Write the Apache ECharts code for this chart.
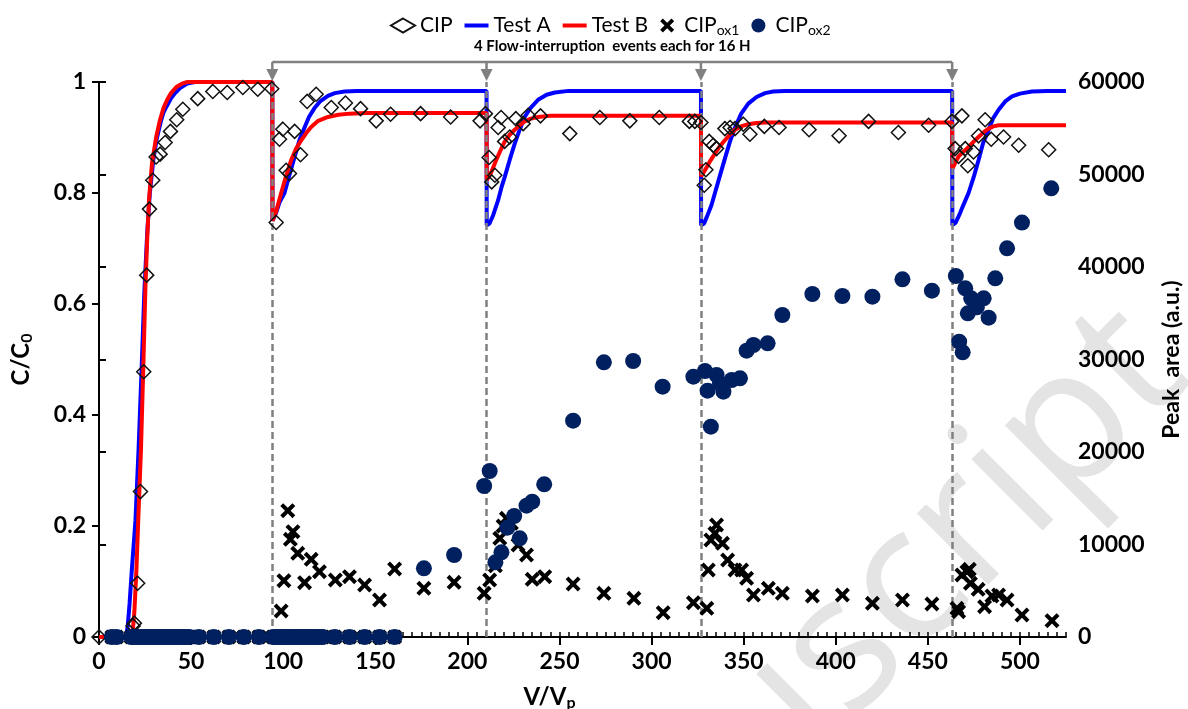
<!DOCTYPE html>
<html><head><meta charset="utf-8">
<script src="https://cdn.jsdelivr.net/npm/echarts@6/dist/echarts.min.js"></script>
<style>html,body{margin:0;padding:0;background:#fff}#c{width:1188px;height:709px}</style>
</head><body><div id="c"></div>
<script>
const FONT = 'Lato';
const xTicks = [0, 50, 100, 150, 200, 250, 300, 350, 400, 450, 500];
const yLeftTicks = [0, 0.2, 0.4, 0.6, 0.8, 1];
const yRightTicks = [0, 10000, 20000, 30000, 40000, 50000, 60000];
const interruptions = [94.1, 210.4, 326.8, 463.2];
const annotationText = '4 Flow-interruption  events each for 16 H';

const cip = [[0,0],[18.5,0.02],[19.2,0.025],[21,0.097],[22.5,0.262],[24.3,0.478],[25.9,0.652],[27.4,0.771],[29.2,0.823],[31,0.865],[33.2,0.870],[35.9,0.891],[38.8,0.911],[42.2,0.932],[45.5,0.951],[53.6,0.970],[61.8,0.983],[69.6,0.981],[78.1,0.990],[86.2,0.987],[93.8,0.988],
[96.2,0.747],[98,0.897],[99.8,0.915],[101.6,0.841],[103.4,0.835],[106.2,0.911],[109.4,0.869],[113,0.965],[117.9,0.978],[126.1,0.954],[133.8,0.962],[142,0.952],[150.5,0.930],[158.3,0.942],[174.6,0.943],[190.9,0.937],[206.9,0.930],[209.8,0.943],[211.8,0.864],[213.2,0.820],[214.9,0.832],[216.7,0.918],[218.3,0.936],[220.2,0.893],[223,0.901],[226.3,0.934],[230.3,0.925],[233,0.940],[239.7,0.939],[255.6,0.907],[271.9,0.936],[288.2,0.930],[304.2,0.936],[320.5,0.929],[323.5,0.929],[326.8,0.927],[328.6,0.814],[329.5,0.842],[331.3,0.893],[333.5,0.886],[335.3,0.880],[339.8,0.916],[342.6,0.918],[345.3,0.916],[349.8,0.924],[353.4,0.906],[361.2,0.92],[369.2,0.918],[385.5,0.914],[401.8,0.903],[417.8,0.929],[434,0.909],[450.4,0.922],[463,0.929],[464.8,0.880],[466.7,0.866],[468.5,0.939],[470.3,0.880],[471.7,0.849],[474.8,0.874],[477.5,0.903],[481.1,0.932],[484.4,0.897],[491.1,0.901],[499.3,0.886],[515.6,0.878]];

const testA = [[0,0],[14.7,0],[15.6,0.02],[16.6,0.06],[17.8,0.12],[19.8,0.21],[21.5,0.34],[23.1,0.48],[24.6,0.62],[26.2,0.73],[27.6,0.8],[29.5,0.86],[31.5,0.9],[33.5,0.928],[35,0.945],[36.7,0.956],[39,0.97],[41.3,0.98],[44,0.989],[47.9,0.997],[52,1],[94.1,1],
[94.2,0.75],[96,0.763],[98,0.783],[100.7,0.80],[103,0.828],[106.2,0.865],[109,0.897],[111.6,0.918],[114,0.937],[117,0.953],[120,0.965],[124.3,0.975],[128,0.98],[133.3,0.983],[140,0.984],[210.4,0.984],
[210.5,0.742],[212,0.745],[214,0.76],[216.7,0.787],[218.5,0.81],[220.3,0.829],[223,0.86],[225.7,0.889],[228.5,0.915],[231.1,0.937],[234,0.952],[238.4,0.968],[243,0.977],[247.5,0.981],[255,0.984],[326.8,0.984],
[326.9,0.742],[328.5,0.745],[330,0.757],[332.5,0.778],[334.4,0.80],[337,0.83],[339.8,0.862],[342.5,0.892],[345.3,0.918],[348.5,0.942],[352.5,0.961],[357,0.973],[361.6,0.98],[366,0.983],[372.4,0.984],[463.2,0.984],
[463.3,0.742],[465,0.746],[467,0.76],[469.5,0.78],[472.1,0.80],[475,0.83],[477.5,0.859],[480,0.89],[483,0.914],[485.5,0.935],[488.4,0.95],[492,0.965],[495.7,0.974],[500,0.979],[506.5,0.983],[515,0.984],[525,0.984]];

const testB = [[0,0],[17.4,0],[18.3,0.01],[19.2,0.045],[20.3,0.12],[21.3,0.21],[22.8,0.34],[24,0.48],[25.2,0.63],[26.2,0.72],[27.2,0.79],[28.8,0.855],[31,0.9],[33,0.93],[35,0.953],[37,0.968],[39.1,0.98],[42,0.991],[45,0.997],[48,1],[94.1,1],
[94.2,0.75],[96,0.765],[98.9,0.80],[101.5,0.83],[104.3,0.859],[107,0.88],[109.8,0.895],[112.5,0.908],[115.2,0.919],[119,0.93],[124.3,0.937],[130,0.941],[136,0.943],[145,0.944],[210.4,0.944],
[210.5,0.823],[213,0.838],[216,0.862],[218,0.877],[220.3,0.893],[223,0.905],[225.7,0.914],[228.5,0.922],[231.1,0.929],[234.5,0.934],[238.4,0.937],[245,0.939],[326.8,0.939],
[326.9,0.83],[329,0.841],[331.5,0.856],[334.4,0.871],[337,0.884],[339.8,0.895],[342.5,0.905],[345.3,0.914],[348.5,0.92],[352.5,0.924],[357,0.926],[362,0.927],[463.2,0.927],
[463.3,0.844],[466.7,0.866],[469.5,0.875],[472.1,0.883],[475,0.893],[477.5,0.901],[480.5,0.91],[483,0.916],[485.5,0.92],[488.4,0.922],[495,0.922],[525,0.922]];

const oxZeroV = [7,9.5,17.5,19,20.5,22,23.5,25,26.5,28,29.5,31,32.5,34,35.5,37,38.5,40,41.5,43,44.5,46,47.5,49,54.2,62.3,70.5,78.6,86.8,94.5,96,97.5,99,100.5,102,103.5,105,106.5,108,109.5,111,112.5,114,115.5,117,118.5,120,121.5,128,136,144.2,152.3,160.5];

const cipOx1 = [[98.9,2811],[100.4,6087],[102.5,13654],[103.9,10562],[105.3,11384],[107.9,9049],[111.6,5870],[115.2,8400],[119.7,7059],[128.3,6162],[136,6519],[144.2,5622],[152.3,4000],[160.5,7351],[176.4,5265],[192.8,5914],[209.1,4724],[212.1,6162],[215.2,7700],[217.6,10670],[219.4,12000],[221.2,12832],[223.9,12292],[227.5,9946],[232.1,8865],[235.2,6238],[242,6519],[257.4,5730],[274.1,4724],[290.4,4184],[306.3,2627],[322.7,3708],[330,3103],[330.8,7243],[332.2,10486],[334.4,11211],[335.3,12108],[338.5,10130],[341.3,8324],[345.3,7243],[348.9,7243],[351.6,6346],[355.3,4541],[363.4,5265],[371,4724],[387.3,4432],[403.6,4541],[419.9,3643],[436.2,4000],[452.2,3567],[465.8,3103],[466.7,2735],[468.5,6703],[471.2,7059],[472.5,7319],[473.1,5805],[477.3,5157],[480.8,3276],[484.8,4432],[488.4,4541],[493,4000],[501.1,2378],[517.4,1762]];

const cipOx2 = [[176.4,7427],[192.8,8865],[209.1,16324],[212.1,17946],[215.2,8076],[218.5,9157],[221.7,11816],[225.4,13081],[228.4,10670],[232.1,14195],[235.2,14627],[241.7,16508],[257.4,23384],[274.1,29697],[290,29838],[306,27059],[322.7,28141],[329,28757],[330.4,26627],[332.2,22735],[335.3,28324],[337.1,27427],[339,26519],[343.5,27784],[348,27964],[351.6,30955],[355.3,31568],[363,31748],[371,34811],[387.3,37081],[403.6,36865],[419.9,36793],[436.2,38670],[452.2,37441],[465.2,39027],[467,31928],[468.9,30775],[470.3,37694],[471.7,34995],[473.5,36613],[476.6,35643],[480.3,36613],[483,34523],[486.6,38778],[493,42020],[501.1,44800],[517,48505]];

const ox1All = oxZeroV.map(v => [v, 0]).concat(cipOx1);
const ox2All = oxZeroV.map(v => [v, 0]).concat(cipOx2);

const X_PATH = 'path://M0,1.9L1.9,0L5,3.1L8.1,0L10,1.9L6.9,5L10,8.1L8.1,10L5,6.9L1.9,10L0,8.1L3.1,5Z';
const LINE_ICON = 'path://M0,0H24V4H0Z';
const GRAY = '#808080';

const chart = echarts.init(document.getElementById('c'), null, {renderer: 'canvas'});
const labelStyle = {fontFamily: FONT, fontWeight: 'bold', fontSize: 23, color: '#000'};

const option = {
  animation: false,
  backgroundColor: '#fff',
  textStyle: {fontFamily: FONT},
  grid: {left: 99, right: 122, top: 82, bottom: 72, containLabel: false, outerBoundsMode: 'none'},
  legend: {
    top: 10, left: 385, itemWidth: 24, itemHeight: 14, itemGap: 12,
    data: [{name: 'CIP'}, {name: 'Test A', icon: LINE_ICON}, {name: 'Test B', icon: LINE_ICON}, {name: 'CIPox1'}, {name: 'CIPox2'}],
    formatter: n => n.indexOf('CIPox') === 0 ? '{n|CIP}{s|' + n.slice(3) + '}' : '{n|' + n + '}',
    textStyle: {fontFamily: FONT, fontSize: 21, color: '#000',
      rich: {n: {fontFamily: FONT, fontSize: 21, color: '#000'},
             s: {fontFamily: FONT, fontSize: 14, color: '#000', verticalAlign: 'bottom', padding: [10, 0, 0, 0]}}}
  },
  xAxis: [{
    type: 'value', min: 0, max: 525, interval: 50,
    name: '{a|V/V}{s|p}', nameLocation: 'middle', nameGap: 46,
    nameTextStyle: {padding: [0, 66, 0, 0], rich: {a: {fontFamily: FONT, fontWeight: 'bold', fontSize: 24, color: '#000'}, s: {fontFamily: FONT, fontWeight: 'bold', fontSize: 16, color: '#000', verticalAlign: 'bottom', padding: [12, 0, 0, 0]}}},
    axisLine: {lineStyle: {color: '#000', width: 2}},
    axisTick: {length: 8, lineStyle: {color: '#000', width: 2}},
    axisLabel: Object.assign({margin: 13, showMaxLabel: false, formatter: v => xTicks.indexOf(v) >= 0 ? String(v) : ''}, labelStyle),
    splitLine: {show: false}
  }, {
    type: 'value', min: 0, max: 525, interval: 5, position: 'bottom', gridIndex: 0,
    axisLine: {show: false},
    axisTick: {inside: true, length: 5, lineStyle: {color: '#000', width: 1.5}},
    axisLabel: {show: false}, splitLine: {show: false}
  }],
  yAxis: [{
    type: 'value', min: 0, max: 1, interval: 0.2, position: 'left',
    name: '{a|C/C}{s|0}', nameLocation: 'middle', nameGap: 64, nameRotate: 90,
    nameTextStyle: {rich: {a: {fontFamily: FONT, fontWeight: 'bold', fontSize: 24, color: '#000'}, s: {fontFamily: FONT, fontWeight: 'bold', fontSize: 16, color: '#000', verticalAlign: 'bottom', padding: [12, 0, 0, 0]}}},
    axisLine: {show: true, lineStyle: {color: '#000', width: 2}},
    axisTick: {show: true, length: 7, lineStyle: {color: '#000', width: 2}},
    axisLabel: Object.assign({margin: 13, formatter: v => String(yLeftTicks.find(t => Math.abs(t - v) < 1e-9))}, labelStyle),
    splitLine: {show: false}
  }, {
    type: 'value', min: 0, max: 60000, interval: 10000, position: 'right',
    name: 'Peak  area (a.u.)', nameLocation: 'middle', nameGap: 94, nameRotate: 90,
    nameTextStyle: {fontFamily: FONT, fontWeight: 'bold', fontSize: 23, color: '#000'},
    axisLine: {show: true, lineStyle: {color: '#000', width: 2}},
    axisTick: {show: true, length: 7, lineStyle: {color: '#000', width: 2}},
    axisLabel: Object.assign({margin: 12, formatter: v => String(yRightTicks.find(t => t === v))}, labelStyle),
    splitLine: {show: false}
  }],
  series: [
    {name: 'CIP', type: 'scatter', xAxisIndex: 0, yAxisIndex: 0, data: cip, symbol: 'diamond', symbolSize: 14, z: 6,
     itemStyle: {color: 'rgba(255,255,255,0)', borderColor: '#111', borderWidth: 1.5, opacity: 1}},
    {name: 'Test A', type: 'line', xAxisIndex: 0, yAxisIndex: 0, data: testA, symbol: 'none', z: 2,
     lineStyle: {color: '#0000ff', width: 4}, itemStyle: {color: '#0000ff'}},
    {name: 'Test B', type: 'line', xAxisIndex: 0, yAxisIndex: 0, data: testB, symbol: 'none', z: 3,
     lineStyle: {color: '#ff0000', width: 4}, itemStyle: {color: '#ff0000'},
     markLine: {silent: true, symbol: ['none', 'none'], label: {show: false}, z: 4, animation: false,
       lineStyle: {color: GRAY, type: [7, 4], width: 2.5},
       data: interruptions.map(v => ({xAxis: v}))}},
    {name: 'CIPox1', type: 'scatter', xAxisIndex: 0, yAxisIndex: 1, data: ox1All, symbol: X_PATH, symbolSize: 15, z: 7,
     clip: false, itemStyle: {color: '#000', opacity: 1}},
    {name: 'CIPox2', type: 'scatter', xAxisIndex: 0, yAxisIndex: 1, data: ox2All, symbol: 'circle', symbolSize: 16, z: 8,
     clip: false, itemStyle: {color: '#002060', opacity: 1}}
  ]
};
chart.setOption(option);

// annotation bracket, arrows, and watermark positioned via the chart's scales
const xs = interruptions.map(v => chart.convertToPixel({xAxisIndex: 0}, v));
const yTop = chart.convertToPixel({yAxisIndex: 0}, 1);
const bracketY = yTop - 20;
const graphics = [];
graphics.push({type: 'text', z: -10, silent: true, x: 1222, y: 408, rotation: Math.PI / 4,
  style: {text: 'Manuscript', fontFamily: 'Open Sans', fontSize: 188, fill: '#e4e4e4', align: 'right', verticalAlign: 'bottom'}});
graphics.push({type: 'line', z: 20, shape: {x1: xs[0], y1: bracketY, x2: xs[3], y2: bracketY},
  style: {stroke: GRAY, lineWidth: 2.5}});
xs.forEach(x => {
  graphics.push({type: 'line', z: 20, shape: {x1: x, y1: bracketY, x2: x, y2: yTop - 10}, style: {stroke: GRAY, lineWidth: 2.5}});
  graphics.push({type: 'polygon', z: 20, shape: {points: [[x - 6, yTop - 13], [x + 6, yTop - 13], [x, yTop - 1]]}, style: {fill: GRAY}});
});
graphics.push({type: 'text', z: 20, x: (xs[0] + xs[3]) / 2, y: bracketY - 8,
  style: {text: annotationText, fontFamily: FONT, fontWeight: 'bold', fontSize: 15, fill: '#000', align: 'center', verticalAlign: 'bottom'}});
chart.setOption({graphic: graphics});
</script></body></html>
